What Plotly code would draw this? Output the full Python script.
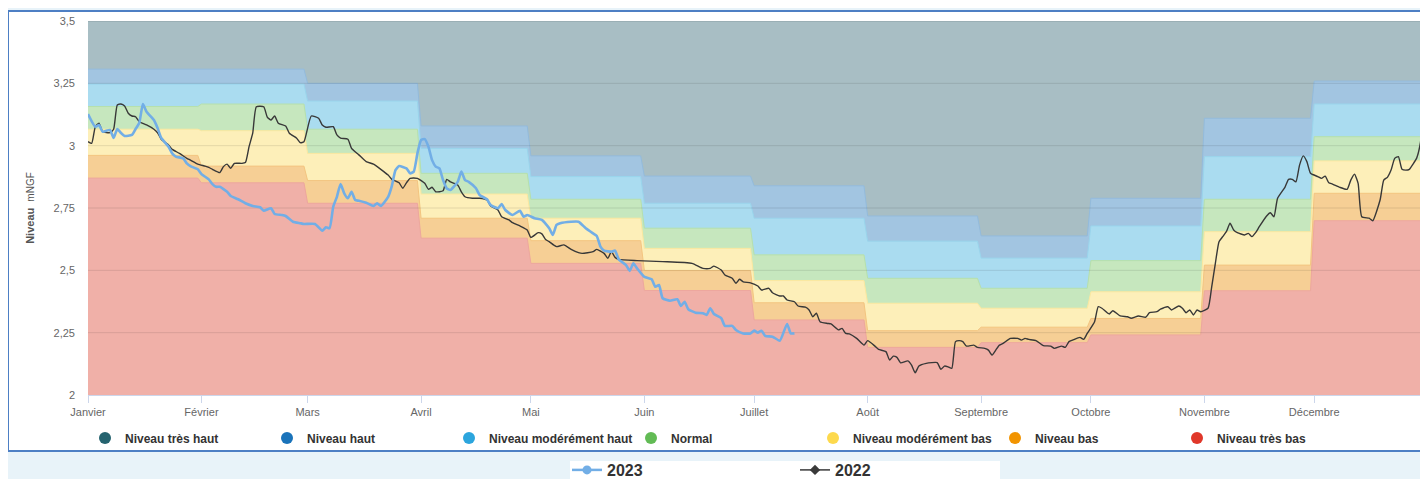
import pandas as pd
import plotly.graph_objects as go

# ---------------- data ----------------
AXIS_YEAR = 2024  # leap-year calendar used for the month axis
MONTH_LABELS = ["Janvier", "Février", "Mars", "Avril", "Mai", "Juin", "Juillet",
                "Août", "Septembre", "Octobre", "Novembre", "Décembre"]
Y_TICKS = [2, 2.25, 2.5, 2.75, 3, 3.25, 3.5]
Y_TICK_LABELS = ["2", "2,25", "2,5", "2,75", "3", "3,25", "3,5"]

# Monthly upper bound (mNGF) of every level band, January -> December
TRES_HAUT_TOP = [3.5, 3.5, 3.5, 3.5, 3.5, 3.5, 3.5, 3.5, 3.5, 3.5, 3.5, 3.5]
HAUT_TOP = [3.307, 3.307, 3.250, 3.079, 2.959, 2.878, 2.839, 2.718, 2.638, 2.789, 3.110, 3.259]
MOD_HAUT_TOP = [3.247, 3.247, 3.179, 2.989, 2.876, 2.769, 2.709, 2.617, 2.549, 2.678, 2.956, 3.167]
NORMAL_TOP = [3.157, 3.167, 3.066, 2.889, 2.785, 2.669, 2.562, 2.468, 2.428, 2.539, 2.785, 3.036]
MOD_BAS_TOP = [3.066, 3.060, 2.969, 2.806, 2.709, 2.588, 2.459, 2.368, 2.348, 2.414, 2.655, 2.939]
BAS_TOP = [2.961, 2.918, 2.860, 2.709, 2.619, 2.499, 2.370, 2.258, 2.272, 2.307, 2.521, 2.809]
TRES_BAS_TOP = [2.870, 2.851, 2.769, 2.629, 2.528, 2.419, 2.301, 2.191, 2.210, 2.241, 2.418, 2.699]

BAND_NAMES = ["Niveau très haut", "Niveau haut", "Niveau modérément haut", "Normal",
              "Niveau modérément bas", "Niveau bas", "Niveau très bas"]

# 2023 series: day of year (0 = 1 January) and level (mNGF)
Y2023_DAYS = [0, 2, 3, 4, 6, 7, 8, 9, 10, 12, 13, 14, 15, 16, 18, 19, 20, 22, 23, 24,
              26, 27, 28, 30, 31, 33, 34, 35, 36, 38, 39, 41, 43, 45, 47, 48, 50, 51, 53, 54,
              56, 58, 59, 62, 64, 65, 66, 67, 68, 69, 70, 71, 72, 73, 74, 76, 78, 79, 80, 82,
              83, 84, 85, 87, 88, 89, 90, 91, 92, 93, 94, 95, 96, 97, 98, 99, 101, 102, 103, 104,
              106, 107, 109, 110, 112, 113, 114, 116, 118, 119, 120, 122, 124, 126, 127, 128, 129, 132, 134, 136,
              138, 139, 140, 141, 143, 144, 145, 147, 148, 149, 150, 152, 154, 155, 156, 157, 159, 161, 162, 163,
              164, 166, 168, 169, 170, 171, 173, 174, 176, 177, 179, 181, 182, 183, 184, 185, 187, 189, 191, 192,
              193]
Y2023_LEVELS = [3.127, 3.076, 3.083, 3.056, 3.063, 3.031, 3.067, 3.051, 3.039, 3.043, 3.067, 3.091, 3.167, 3.136, 3.103, 3.071, 3.031, 2.996, 2.969, 2.956,
                2.949, 2.929, 2.918, 2.905, 2.886, 2.865, 2.846, 2.835, 2.835, 2.815, 2.798, 2.785, 2.769, 2.758, 2.753, 2.739, 2.749, 2.726, 2.722, 2.718,
                2.695, 2.689, 2.686, 2.686, 2.659, 2.673, 2.669, 2.755, 2.795, 2.846, 2.809, 2.789, 2.815, 2.782, 2.779, 2.771, 2.758, 2.769, 2.758, 2.795,
                2.838, 2.902, 2.918, 2.909, 2.889, 2.896, 2.969, 3.023, 3.026, 2.996, 2.942, 2.916, 2.909, 2.862, 2.829, 2.822, 2.855, 2.896, 2.862, 2.855,
                2.829, 2.802, 2.785, 2.762, 2.749, 2.766, 2.742, 2.722, 2.739, 2.715, 2.722, 2.709, 2.702, 2.669, 2.642, 2.682, 2.689, 2.695, 2.695, 2.669,
                2.648, 2.638, 2.595, 2.579, 2.575, 2.579, 2.544, 2.521, 2.498, 2.528, 2.508, 2.474, 2.464, 2.434, 2.441, 2.388, 2.378, 2.384, 2.357, 2.374,
                2.344, 2.330, 2.328, 2.321, 2.348, 2.325, 2.308, 2.277, 2.277, 2.261, 2.247, 2.247, 2.258, 2.250, 2.258, 2.237, 2.234, 2.218, 2.285, 2.247,
                2.247]

# 2022 series: day of year (0 = 1 January) and level (mNGF)
Y2022_DAYS = [0, 1, 2, 3, 4, 6, 7, 8, 9, 10, 11, 12, 13, 14, 16, 18, 19, 20, 22, 23,
              25, 27, 28, 30, 32, 33, 34, 36, 37, 38, 39, 40, 42, 43, 44, 45, 46, 48, 49, 50,
              51, 52, 54, 55, 57, 58, 59, 61, 63, 64, 65, 67, 68, 69, 71, 72, 74, 76, 78, 80,
              82, 83, 85, 86, 87, 88, 90, 92, 93, 94, 95, 97, 98, 99, 101, 102, 103, 105, 107, 109,
              110, 112, 113, 115, 116, 118, 120, 121, 123, 124, 125, 126, 128, 130, 132, 134, 135, 138, 139, 141,
              142, 143, 144, 145, 150, 157, 165, 168, 170, 171, 173, 174, 176, 177, 178, 179, 181, 183, 184, 186,
              187, 189, 190, 191, 193, 194, 196, 197, 198, 199, 200, 202, 203, 205, 206, 207, 208, 210, 212, 213,
              215, 216, 218, 219, 220, 221, 222, 224, 225, 226, 227, 229, 232, 233, 234, 235, 236, 237, 238, 239,
              240, 242, 243, 245, 246, 247, 248, 249, 250, 252, 254, 255, 256, 257, 259, 261, 263, 264, 266, 267,
              268, 269, 271, 272, 273, 275, 276, 277, 279, 280, 282, 284, 285, 287, 289, 290, 292, 293, 295, 296,
              298, 299, 300, 301, 302, 303, 304, 306, 307, 308, 309, 310, 311, 312, 313, 314, 316, 317, 318, 319,
              320, 322, 323, 324, 325, 327, 328, 329, 330, 331, 332, 333, 334, 336, 337, 338, 339, 340, 342, 344,
              345, 346, 347, 348, 350, 351, 353, 354, 355, 356, 357, 358, 359, 360, 361, 362, 363, 364, 365]
Y2022_LEVELS = [3.016, 3.009, 3.076, 3.090, 3.056, 3.052, 3.066, 3.163, 3.167, 3.159, 3.130, 3.119, 3.116, 3.096, 3.083, 3.066, 3.052, 3.026, 3.003, 2.985,
                2.969, 2.949, 2.942, 2.926, 2.918, 2.913, 2.905, 2.892, 2.916, 2.926, 2.909, 2.929, 2.929, 2.932, 2.996, 3.050, 3.156, 3.156, 3.114, 3.103,
                3.119, 3.090, 3.079, 3.050, 3.030, 3.012, 3.016, 3.119, 3.110, 3.083, 3.074, 3.076, 3.043, 3.030, 3.026, 2.989, 2.963, 2.936, 2.926, 2.905,
                2.882, 2.865, 2.851, 2.829, 2.851, 2.869, 2.869, 2.849, 2.825, 2.833, 2.815, 2.819, 2.865, 2.855, 2.842, 2.815, 2.795, 2.789, 2.789, 2.782,
                2.758, 2.742, 2.715, 2.702, 2.691, 2.678, 2.662, 2.632, 2.651, 2.646, 2.624, 2.615, 2.595, 2.602, 2.584, 2.571, 2.568, 2.575, 2.584, 2.568,
                2.548, 2.575, 2.552, 2.544, 2.539, 2.535, 2.528, 2.508, 2.508, 2.517, 2.501, 2.481, 2.468, 2.448, 2.464, 2.454, 2.450, 2.437, 2.421, 2.428,
                2.410, 2.397, 2.397, 2.381, 2.374, 2.357, 2.352, 2.341, 2.314, 2.328, 2.294, 2.287, 2.285, 2.261, 2.267, 2.247, 2.245, 2.227, 2.200, 2.218,
                2.196, 2.183, 2.174, 2.140, 2.156, 2.151, 2.129, 2.137, 2.120, 2.089, 2.116, 2.127, 2.130, 2.103, 2.116, 2.113, 2.107, 2.214, 2.218, 2.214,
                2.196, 2.200, 2.191, 2.187, 2.180, 2.160, 2.180, 2.200, 2.207, 2.227, 2.227, 2.220, 2.227, 2.223, 2.218, 2.198, 2.196, 2.187, 2.196, 2.191,
                2.214, 2.220, 2.231, 2.223, 2.247, 2.294, 2.354, 2.348, 2.325, 2.338, 2.317, 2.314, 2.308, 2.317, 2.312, 2.330, 2.334, 2.344, 2.354, 2.341,
                2.357, 2.348, 2.330, 2.341, 2.321, 2.341, 2.334, 2.348, 2.434, 2.528, 2.615, 2.635, 2.655, 2.689, 2.662, 2.651, 2.642, 2.648, 2.635, 2.651,
                2.675, 2.718, 2.731, 2.715, 2.789, 2.833, 2.865, 2.865, 2.855, 2.922, 2.959, 2.936, 2.889, 2.876, 2.869, 2.878, 2.851, 2.846, 2.833, 2.825,
                2.862, 2.886, 2.849, 2.715, 2.709, 2.699, 2.782, 2.862, 2.873, 2.902, 2.949, 2.956, 2.905, 2.902, 2.905, 2.926, 2.950, 3.010, 3.143]

# ---------------- styles ----------------
BAND_FILL = ["#a8bec4", "#a2c5e1", "#aadcf0", "#c6e7be", "#fdefb9", "#f6cf95", "#f0b0a8"]
BAND_EDGE = ["#9db4ba", "#93bbdc", "#9ad5ec", "#b6e0ac", "#fbe8a0", "#f3c580", "#eda79e"]
BAND_DOT = ["#25636f", "#1a73ba", "#2ca5dd", "#62bb55", "#fdd94d", "#f29400", "#e0372a"]
FONT = "Liberation Sans, Arial, sans-serif"

start = pd.Timestamp(f"{AXIS_YEAR}-01-01")
end = pd.Timestamp(f"{AXIS_YEAR}-12-31")
month_starts = pd.date_range(start, periods=12, freq="MS")
month_ends = month_starts + pd.offsets.MonthEnd(0)

def band_xy(tops):
    xs, ys = [], []
    for s, e, v in zip(month_starts, month_ends, tops):
        xs += [s, e]
        ys += [v, v]
    return xs, ys

fig = go.Figure()

band_tops = [TRES_HAUT_TOP, HAUT_TOP, MOD_HAUT_TOP, NORMAL_TOP, MOD_BAS_TOP, BAS_TOP, TRES_BAS_TOP]
for name, tops, fill, edge in zip(BAND_NAMES, band_tops, BAND_FILL, BAND_EDGE):
    xs, ys = band_xy(tops)
    fig.add_trace(go.Scatter(x=xs, y=ys, mode="lines", fill="tozeroy", fillcolor=fill,
                             line=dict(color=edge, width=1), name=name,
                             showlegend=False, hoverinfo="skip"))

# grid lines drawn over the bands
gx, gy = [], []
for t in Y_TICKS[1:]:
    gx += [start, end, None]
    gy += [t, t, None]
fig.add_trace(go.Scatter(x=gx, y=gy, mode="lines", line=dict(color="rgba(0,0,0,0.10)", width=1),
                         showlegend=False, hoverinfo="skip"))

d2023 = start + pd.to_timedelta(Y2023_DAYS, unit="D")
d2022 = start + pd.to_timedelta(Y2022_DAYS, unit="D")
fig.add_trace(go.Scatter(x=d2022, y=Y2022_LEVELS, mode="lines", name="2022",
                         line=dict(color="#383838", width=1.4, shape="spline", smoothing=0.5),
                         showlegend=False))
fig.add_trace(go.Scatter(x=d2023, y=Y2023_LEVELS, mode="lines", name="2023",
                         line=dict(color="#72aee6", width=2.6, shape="spline", smoothing=0.5),
                         showlegend=False))

# legend entries (band legend with round dots)
for name, dot in zip(BAND_NAMES, BAND_DOT):
    fig.add_trace(go.Scatter(x=[None], y=[None], mode="markers", name=name,
                             marker=dict(color=dot, size=12, symbol="circle"),
                             legend="legend"))
fig.add_trace(go.Scatter(x=[None], y=[None], mode="lines+markers", name="2023",
                         line=dict(color="#72aee6", width=2.5),
                         marker=dict(color="#72aee6", size=9, symbol="circle"), legend="legend2"))
fig.add_trace(go.Scatter(x=[None], y=[None], mode="lines+markers", name="2022",
                         line=dict(color="#3a3a3a", width=1.5),
                         marker=dict(color="#3a3a3a", size=8, symbol="diamond"), legend="legend2"))

# The page body adds an 8 px offset, so the figure is 8 px smaller than the window.
OFF = 8
W, H = 1428 - OFF, 479 - OFF
PX0, PX1, PY0, PY1 = 88, 1424, 21, 395          # plot area in window pixels
L, R, T, B = PX0 - OFF, W - (PX1 - OFF), PY0 - OFF, H - (PY1 - OFF)

def px(x):
    return (x - PX0) / (PX1 - PX0)

def py(y):
    return (PY1 - y) / (PY1 - PY0)

fig.update_layout(
    width=W, height=H,
    margin=dict(l=L, r=R, t=T, b=B, autoexpand=False),
    paper_bgcolor="#e8f3f9",
    plot_bgcolor="#ffffff",
    font=dict(family=FONT, color="#333333"),
    shapes=[
        dict(type="rect", xref="paper", yref="paper", x0=px(8), x1=px(1440), y0=py(451), y1=py(11),
             fillcolor="#ffffff", line=dict(color="#4d7fc4", width=2), layer="below"),
        dict(type="rect", xref="paper", yref="paper", x0=px(570), x1=px(1000), y0=py(490), y1=py(461),
             fillcolor="#ffffff", line=dict(width=0), layer="below"),
    ],
    legend=dict(orientation="h", x=px(85), y=py(438), xanchor="left", yanchor="middle",
                entrywidth=137, entrywidthmode="pixels", itemwidth=30,
                font=dict(size=12, color="#333333", family=FONT, weight="bold"),
                bgcolor="rgba(0,0,0,0)", tracegroupgap=0),
    legend2=dict(orientation="h", x=px(567), y=py(470), xanchor="left", yanchor="middle",
                 entrywidth=183, entrywidthmode="pixels", itemwidth=30,
                 font=dict(size=16, color="#333333", family=FONT, weight="bold"),
                 bgcolor="rgba(0,0,0,0)"),
    xaxis=dict(type="date", range=[start, end], tickvals=list(month_starts), ticktext=MONTH_LABELS,
               showgrid=False, showline=True, linecolor="#ccd6eb", linewidth=1,
               ticks="outside", ticklen=7, tickcolor="#ccd6eb",
               tickfont=dict(size=11, color="#666666", family=FONT), zeroline=False, fixedrange=True),
    yaxis=dict(range=[2, 3.5], tickvals=Y_TICKS, ticktext=Y_TICK_LABELS, showgrid=False,
               zeroline=False, ticks="", ticklabelstandoff=12,
               tickfont=dict(size=11, color="#666666", family=FONT),
               title=dict(text="<b>Niveau</b>  <span style='font-size:10px;font-weight:normal'>mNGF</span>",
                          font=dict(size=11, color="#555555", family=FONT), standoff=16)),
)

fig.write_html("out.html")
